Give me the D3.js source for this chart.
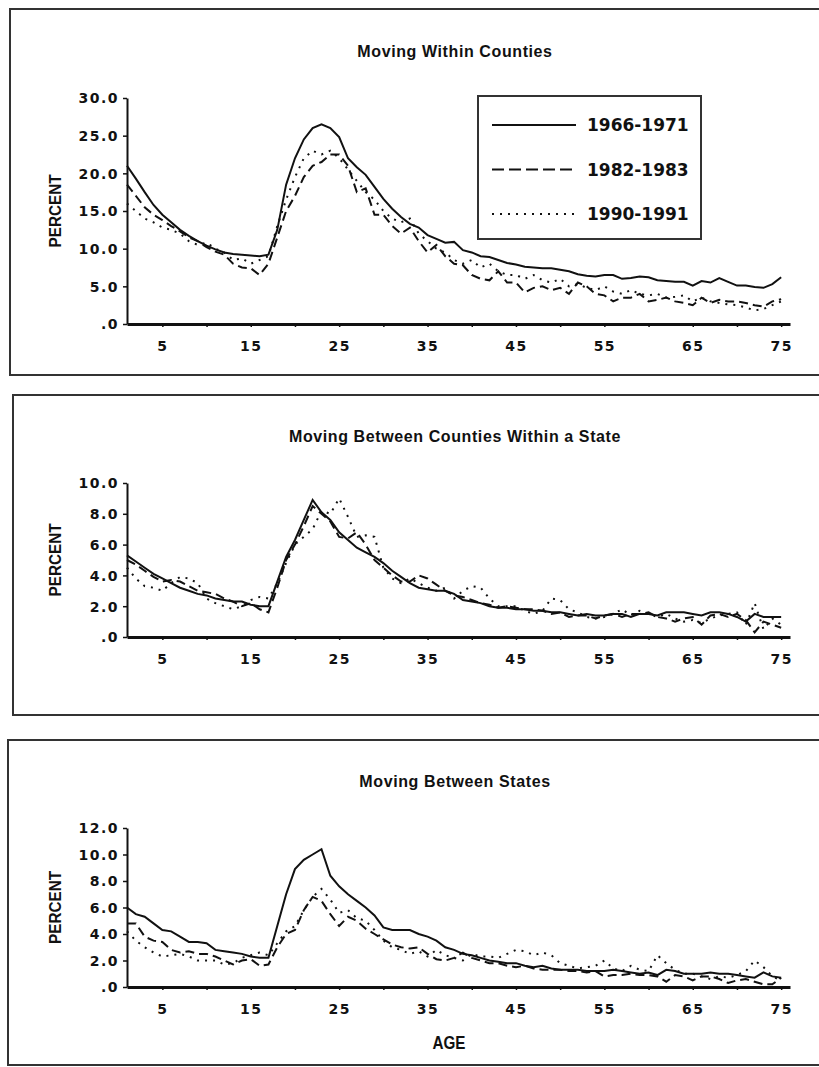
<!DOCTYPE html>
<html>
<head>
<meta charset="utf-8">
<script src="https://cdn.jsdelivr.net/npm/d3@7"></script>
<style>
  body { margin: 0; background: #fff; }
  svg { display: block; }
  .tick text { font-family: "DejaVu Sans", sans-serif; font-weight: bold; font-size: 14px; letter-spacing: 1.5px; fill: #111; }
  .title { font-family: "Liberation Sans", Arial, sans-serif; font-weight: bold; font-size: 16px; letter-spacing: 0.6px; fill: #111; }
  .lab { font-family: "Liberation Sans", Arial, sans-serif; font-weight: bold; fill: #111; }
  .leg { font-family: "DejaVu Sans", sans-serif; font-weight: bold; font-size: 17px; fill: #111; }
</style>
</head>
<body>
<script>
var W = 819, H = 1067;

var ages = [1,2,3,4,5,6,7,8,9,10,11,12,13,14,15,16,17,18,19,20,21,22,23,24,25,
  26,27,28,29,30,31,32,33,34,35,36,37,38,39,40,41,42,43,44,45,46,47,48,49,50,
  51,52,53,54,55,56,57,58,59,60,61,62,63,64,65,66,67,68,69,70,71,72,73,74,75];

var periods = ["1966-1971", "1982-1983", "1990-1991"];

// Moving within counties
var within66 = [21.0,19.3,17.5,15.8,14.5,13.5,12.5,11.7,11.0,10.4,9.9,9.5,9.3,9.2,9.1,9.0,9.2,12.5,18.5,22.0,
  24.5,26.0,26.5,26.0,24.8,22.0,20.8,19.8,18.2,16.6,15.3,14.2,13.3,12.8,11.8,11.3,10.8,10.9,9.8,9.5,
  9.0,8.9,8.5,8.1,7.9,7.6,7.5,7.4,7.4,7.2,7.0,6.6,6.4,6.3,6.5,6.5,6.0,6.1,6.3,6.2,
  5.8,5.7,5.6,5.6,5.1,5.7,5.5,6.1,5.6,5.1,5.1,4.9,4.8,5.3,6.2];
var within82 = [18.5,17.0,15.5,14.5,13.8,13.0,12.3,11.5,11.0,10.2,9.6,9.2,8.0,7.5,7.4,6.5,8.0,11.5,15.0,17.0,
  19.5,21.0,21.5,22.5,22.5,21.0,17.5,18.0,14.5,14.5,13.0,12.0,12.8,11.0,9.5,10.5,9.0,8.0,7.8,6.5,
  6.0,5.8,7.0,5.5,5.5,4.2,4.8,5.0,4.5,4.8,4.0,5.5,5.0,4.0,3.8,3.0,3.5,3.5,4.0,3.0,
  3.2,3.5,3.0,2.8,2.5,3.5,2.8,3.2,3.0,3.0,2.8,2.5,2.3,3.0,3.3];
var within90 = [16.0,15.0,14.0,13.5,12.8,12.5,12.0,11.0,10.5,10.8,10.0,9.5,8.5,8.7,8.0,8.5,9.0,13.0,16.5,19.5,
  22.0,23.0,22.5,23.0,22.0,20.5,19.0,17.5,16.5,15.0,14.0,13.5,14.0,12.0,11.0,10.0,9.5,8.5,8.0,8.5,
  7.5,8.0,7.0,6.5,6.5,6.0,6.5,5.8,5.5,6.0,5.0,5.3,4.8,4.5,5.0,4.3,4.0,4.5,4.0,3.8,
  4.0,3.5,3.6,3.8,3.0,3.5,3.0,2.8,2.6,2.5,2.2,1.8,2.0,2.5,3.0];

// Moving between counties within a state
var county66 = [5.3,4.9,4.5,4.1,3.8,3.5,3.2,3.0,2.8,2.7,2.5,2.4,2.3,2.3,2.1,2.0,2.0,3.6,5.2,6.3,
  7.6,8.9,8.1,7.6,6.8,6.3,5.8,5.5,5.2,4.8,4.3,3.9,3.5,3.2,3.1,3.0,3.0,2.8,2.4,2.3,
  2.2,2.0,1.9,1.9,1.8,1.8,1.7,1.7,1.6,1.6,1.5,1.4,1.5,1.4,1.4,1.5,1.5,1.3,1.5,1.5,
  1.4,1.6,1.6,1.6,1.5,1.4,1.6,1.6,1.5,1.3,1.0,1.5,1.3,1.3,1.3];
var county82 = [5.0,4.7,4.3,3.9,3.6,3.7,3.6,3.3,3.0,2.9,2.8,2.5,2.3,2.0,2.2,1.8,1.6,3.2,5.0,6.0,
  7.2,8.5,8.0,7.5,6.5,6.4,6.8,6.0,5.0,4.5,4.0,3.6,3.6,4.0,3.8,3.4,3.0,2.7,2.6,2.4,
  2.2,2.1,1.9,2.0,1.9,1.8,1.8,1.7,1.5,1.6,1.3,1.4,1.4,1.2,1.4,1.5,1.3,1.5,1.5,1.6,
  1.3,1.2,1.0,1.2,1.3,0.8,1.4,1.5,1.3,1.5,1.1,0.3,1.0,0.8,0.6];
var county90 = [4.5,3.8,3.3,3.2,3.0,3.5,3.9,3.8,3.5,2.5,2.2,2.0,1.8,2.0,2.4,2.6,2.5,3.5,4.8,6.0,
  6.5,7.0,8.2,8.0,9.0,7.8,6.5,6.6,6.5,4.5,3.8,3.5,3.8,3.5,3.2,3.0,3.2,2.5,3.0,3.3,
  3.2,2.5,2.0,2.0,2.0,1.7,1.5,1.7,2.5,2.4,1.8,1.6,1.3,1.2,1.3,1.5,1.8,1.4,1.7,1.5,
  1.3,1.5,1.2,1.0,1.1,0.9,1.2,1.4,1.5,1.6,0.8,2.2,0.5,1.2,0.8];

// Moving between states
var state66 = [6.0,5.5,5.3,4.8,4.3,4.2,3.8,3.4,3.4,3.3,2.8,2.7,2.6,2.5,2.3,2.2,2.2,4.6,7.0,8.9,
  9.6,10.0,10.4,8.4,7.6,7.0,6.5,6.0,5.4,4.5,4.3,4.3,4.3,4.0,3.8,3.5,3.0,2.8,2.5,2.4,
  2.2,2.0,1.9,1.8,1.8,1.6,1.5,1.6,1.4,1.3,1.3,1.3,1.2,1.2,1.2,1.3,1.2,1.1,1.0,1.1,
  0.9,1.3,1.2,1.0,1.0,1.0,1.1,1.0,1.0,0.9,0.8,0.7,1.1,0.8,0.7];
var state82 = [4.8,4.8,3.8,3.5,3.4,2.8,2.6,2.7,2.5,2.5,2.3,2.0,1.7,2.0,2.1,1.6,1.7,3.0,4.0,4.3,
  5.8,6.8,6.5,5.5,4.6,5.3,5.0,4.4,4.0,3.6,3.2,3.0,2.9,3.0,2.5,2.1,2.0,2.2,2.6,2.2,
  2.0,1.8,1.8,1.6,1.5,1.6,1.4,1.3,1.3,1.3,1.2,1.2,1.1,1.2,0.8,0.9,0.9,1.0,0.9,0.9,
  0.8,0.4,0.9,0.8,0.5,0.8,0.8,0.6,0.3,0.5,0.6,0.4,0.2,0.2,0.7];
var state90 = [4.2,3.5,3.0,2.6,2.3,2.4,2.5,2.3,2.0,2.0,2.0,1.7,1.8,2.2,2.4,2.6,2.4,3.3,4.2,4.6,
  5.8,6.8,7.4,6.6,5.6,5.8,5.2,5.0,4.3,3.5,3.0,2.8,2.5,2.7,2.3,2.8,2.4,2.2,2.0,2.5,
  2.3,2.3,2.2,2.5,2.8,2.7,2.4,2.6,2.4,1.8,1.6,1.4,1.5,1.6,2.0,1.4,1.2,1.6,1.3,1.2,
  2.4,1.8,1.3,1.0,1.0,0.8,0.6,0.8,0.7,0.9,1.2,2.0,1.5,0.8,0.5];

var dashes = ["none", "9,5", "2,6"];

var panels = [
  { title: "Moving Within Counties", box: [10, 9, 840, 375], titleY: 57,
    yTop: 98, yBottom: 324, yMax: 30, yStep: 5, series: [within66, within82, within90], legend: true },
  { title: "Moving Between Counties Within a State", box: [13, 395, 840, 715], titleY: 442,
    yTop: 483, yBottom: 637, yMax: 10, yStep: 2, series: [county66, county82, county90] },
  { title: "Moving Between States", box: [8, 740, 840, 1065], titleY: 787,
    yTop: 828, yBottom: 987, yMax: 12, yStep: 2, series: [state66, state82, state90], xLabel: "AGE" }
];

var svg = d3.select("body").append("svg")
    .attr("width", W)
    .attr("height", H);

var x = d3.scaleLinear().domain([1, 76]).range([127, 790]);

var yFormat = function(v) { return v === 0 ? ".0" : v.toFixed(1); };

panels.forEach(function(p) {
  var g = svg.append("g");

  // panel frame
  g.append("rect")
      .attr("x", p.box[0])
      .attr("y", p.box[1])
      .attr("width", p.box[2] - p.box[0])
      .attr("height", p.box[3] - p.box[1])
      .attr("fill", "none")
      .attr("stroke", "#333")
      .attr("stroke-width", 2);

  g.append("text")
      .attr("class", "title")
      .attr("x", 455)
      .attr("y", p.titleY)
      .attr("text-anchor", "middle")
      .text(p.title);

  var y = d3.scaleLinear().domain([0, p.yMax]).range([p.yBottom, p.yTop]);

  var xAxis = d3.axisBottom(x)
      .tickValues(d3.range(5, 80, 5))
      .tickFormat(function(d) { return d % 10 === 5 ? d : ""; })
      .tickSizeInner(3)
      .tickSizeOuter(0)
      .tickPadding(14);

  var yAxis = d3.axisLeft(y)
      .tickValues(d3.range(0, p.yMax + p.yStep / 2, p.yStep))
      .tickFormat(yFormat)
      .tickSizeInner(4)
      .tickSizeOuter(0)
      .tickPadding(4);

  g.append("g")
      .attr("class", "x axis")
      .attr("transform", "translate(0," + p.yBottom + ")")
      .call(xAxis)
      .call(function(a) { a.select(".domain").attr("stroke", "#111").attr("stroke-width", 3); })
      .call(function(a) { a.selectAll(".tick line").attr("stroke", "#111").attr("stroke-width", 1.5); });

  g.append("g")
      .attr("class", "y axis")
      .attr("transform", "translate(127,0)")
      .call(yAxis)
      .call(function(a) { a.select(".domain").attr("stroke", "#111").attr("stroke-width", 2); })
      .call(function(a) { a.selectAll(".tick line").attr("stroke", "#111").attr("stroke-width", 1.5); })
      .call(function(a) { a.selectAll(".tick text").attr("dy", "0.35em"); });

  g.append("text")
      .attr("class", "lab")
      .attr("transform", "translate(61," + ((p.yTop + p.yBottom) / 2) + ") rotate(-90)")
      .attr("text-anchor", "middle")
      .attr("font-size", 17)
      .attr("textLength", 73)
      .attr("lengthAdjust", "spacingAndGlyphs")
      .text("PERCENT");

  if (p.xLabel) {
    g.append("text")
        .attr("class", "lab")
        .attr("x", 449)
        .attr("y", 1049)
        .attr("text-anchor", "middle")
        .attr("font-size", 18)
        .attr("textLength", 33)
        .attr("lengthAdjust", "spacingAndGlyphs")
        .text(p.xLabel);
  }

  var line = d3.line()
      .x(function(d, i) { return x(ages[i]); })
      .y(function(d) { return y(d); });

  p.series.forEach(function(s, i) {
    g.append("path")
        .datum(s)
        .attr("d", line)
        .attr("fill", "none")
        .attr("stroke", "#111")
        .attr("stroke-width", 2)
        .attr("stroke-dasharray", dashes[i]);
  });

  if (p.legend) {
    var lg = g.append("g");
    lg.append("rect")
        .attr("x", 478).attr("y", 96)
        .attr("width", 223).attr("height", 143)
        .attr("fill", "#fff")
        .attr("stroke", "#333")
        .attr("stroke-width", 2);
    periods.forEach(function(name, i) {
      var ly = 125 + i * 44.5;
      lg.append("line")
          .attr("x1", 492).attr("x2", 576)
          .attr("y1", ly).attr("y2", ly)
          .attr("stroke", "#111")
          .attr("stroke-width", 2)
          .attr("stroke-dasharray", dashes[i] === "9,5" ? "12,5" : dashes[i]);
      lg.append("text")
          .attr("class", "leg")
          .attr("x", 587)
          .attr("y", ly + 6)
          .text(name);
    });
  }
});
</script>
</body>
</html>
